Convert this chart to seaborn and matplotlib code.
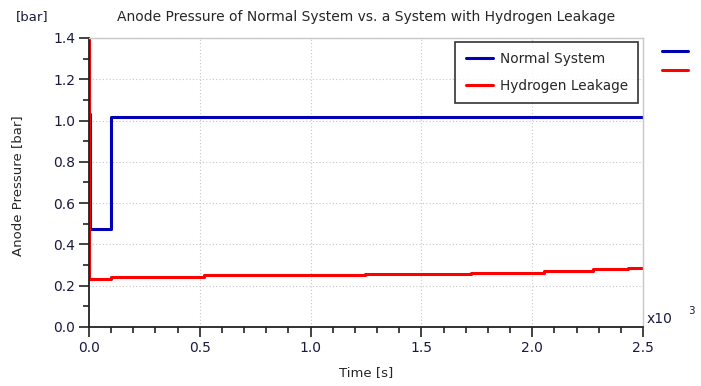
import matplotlib
matplotlib.use("Agg")
import matplotlib.pyplot as plt
import seaborn as sns
import pandas as pd
from matplotlib.ticker import MultipleLocator, FormatStrFormatter
from matplotlib.lines import Line2D

# Data (time in 10^3 s, pressure in bar)
normal_t = [0.0, 0.005, 0.1, 2.5]
normal_p = [1.03, 0.475, 1.016, 1.016]
leak_t = [0.0, 0.0, 0.1, 0.52, 1.245, 1.724, 2.055, 2.276, 2.434, 2.5]
leak_p = [1.45, 0.231, 0.244, 0.253, 0.257, 0.263, 0.271, 0.279, 0.287, 0.287]

title = "Anode Pressure of Normal System vs. a System with Hydrogen Leakage"
xlabel = "Time [s]"
ylabel = "Anode Pressure [bar]"
labels = ["Normal System", "Hydrogen Leakage"]
colors = ["#0000b4", "#ff0000"]

sns.set_style("white")
plt.rcParams["font.family"] = ["DejaVu Sans"]
plt.rcParams["font.size"] = 9.5

fig = plt.figure(figsize=(7.01, 3.86), dpi=100)
ax = fig.add_axes([89/701, 1-327/386, (643-89)/701, (327-38)/386])

df_n = pd.DataFrame({"t": normal_t, "p": normal_p})
df_l = pd.DataFrame({"t": leak_t, "p": leak_p})
sns.lineplot(data=df_n, x="t", y="p", ax=ax, color=colors[0], lw=2.2,
             drawstyle="steps-post", estimator=None, sort=False, label=labels[0])
sns.lineplot(data=df_l, x="t", y="p", ax=ax, color=colors[1], lw=2.2,
             drawstyle="steps-post", estimator=None, sort=False, label=labels[1])

ax.set_xlim(0, 2.5)
ax.set_ylim(0, 1.4)
ax.xaxis.set_major_locator(MultipleLocator(0.5))
ax.xaxis.set_minor_locator(MultipleLocator(0.1))
ax.yaxis.set_major_locator(MultipleLocator(0.2))
ax.yaxis.set_minor_locator(MultipleLocator(0.1))
ax.xaxis.set_major_formatter(FormatStrFormatter("%.1f"))
ax.yaxis.set_major_formatter(FormatStrFormatter("%.1f"))
ax.tick_params(axis="both", which="major", direction="out", length=7, width=1.2,
               color="#222222", labelsize=10, labelcolor="#1a1a40", pad=3)
ax.tick_params(axis="both", which="minor", direction="out", length=4, width=1.2,
               color="#222222")
ax.tick_params(axis="x", bottom=True, which="both")
ax.tick_params(axis="y", left=True, which="both")
ax.grid(True, which="major", color="#c8c8c8", linestyle=(0, (1, 2)), lw=0.8)

for s in ["left", "bottom"]:
    ax.spines[s].set_color("#222222")
    ax.spines[s].set_linewidth(1.3)
for s in ["top", "right"]:
    ax.spines[s].set_color("#c8c8c8")
    ax.spines[s].set_linewidth(1.0)

ax.set_xlabel(xlabel, fontsize=9.5)
ax.set_ylabel(ylabel, fontsize=9.5)
ax.xaxis.set_label_coords(277/554, (327-373)/289)
ax.yaxis.set_label_coords((18-89)/554, 0.49)
ax.xaxis.label.set_va("center")
ax.yaxis.label.set_va("center")
ax.set_title(title, fontsize=10, pad=12)
fig.text(32/701, 1-17/386, "[bar]", fontsize=9.5, color="#1a1a40", ha="center", va="center")
fig.text(647/701, 1-319/386, "x10", fontsize=10, color="#1a1a40", ha="left", va="center")
fig.text(688/701, 1-311/386, "3", fontsize=7.5, color="#1a1a40", ha="left", va="center")

leg = ax.legend(loc="upper right", bbox_to_anchor=(1-5/554, 1-4/289), frameon=True,
                fancybox=False, edgecolor="black", fontsize=9.8, handlelength=2.0,
                borderpad=0.75, labelspacing=0.95, handletextpad=0.5, borderaxespad=0)
leg.get_frame().set_linewidth(1.2)

handles = [Line2D([], [], color=c, lw=2.2) for c in colors]
fig.legend(handles, ["", ""], loc="upper left", bbox_to_anchor=(658/701, 1-42/386),
           frameon=False, handlelength=2.0, labelspacing=0.45, fontsize=9.5,
           handletextpad=0, borderpad=0.3, borderaxespad=0)

fig.savefig("out.png", dpi=100, facecolor="white")
